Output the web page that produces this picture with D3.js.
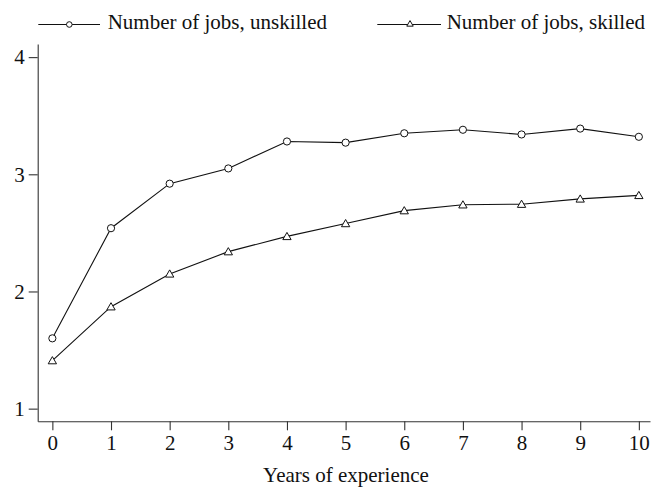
<!DOCTYPE html>
<html>
<head>
<meta charset="utf-8">
<script src="https://cdn.jsdelivr.net/npm/d3@7"></script>
<style>
  html, body { margin: 0; padding: 0; background: #fff; }
  svg { display: block; }
  text { font-family: "Liberation Serif", "Times New Roman", serif; fill: #111; }
</style>
</head>
<body>
<svg id="chart" width="651" height="487"></svg>
<script>
// Years of experience (x) and average number of jobs held
const years = [0, 1, 2, 3, 4, 5, 6, 7, 8, 9, 10];
const unskilled = [1.60, 2.54, 2.92, 3.05, 3.28, 3.27, 3.35, 3.38, 3.34, 3.39, 3.32];
const skilled = [1.41, 1.87, 2.15, 2.34, 2.47, 2.58, 2.69, 2.74, 2.745, 2.79, 2.82];
const xTicks = [0, 1, 2, 3, 4, 5, 6, 7, 8, 9, 10];
const yTicks = [1, 2, 3, 4];
const seriesNames = ["Number of jobs, unskilled", "Number of jobs, skilled"];
const xTitle = "Years of experience";

const svg = d3.select("#chart");
const fontSize = 21;
const ink = "#111";

// Axis frame spans slightly past the outer ticks on both axes
const x = d3.scaleLinear().domain([-0.25, 10.19]).range([37.7, 650]);
const y = d3.scaleLinear().domain([0.892, 4.112]).range([421.3, 44]);

const xAxis = d3.axisBottom(x).tickValues(xTicks).tickSize(9).tickSizeOuter(0).tickPadding(5)
  .tickFormat(d3.format("d"));
const yAxis = d3.axisLeft(y).tickValues(yTicks).tickSize(9).tickSizeOuter(0).tickPadding(4)
  .tickFormat(d3.format("d"));

function styleAxis(g) {
  g.attr("font-size", null).attr("font-family", null);
  g.selectAll("path, line").attr("stroke", "#333").attr("stroke-width", 1.1);
  g.selectAll("text").attr("font-size", fontSize).attr("fill", ink);
}

svg.append("g")
  .attr("transform", `translate(0,${y.range()[0]})`)
  .call(xAxis)
  .call(styleAxis);

svg.append("g")
  .attr("transform", `translate(${x.range()[0]},0)`)
  .call(yAxis)
  .call(styleAxis);

// Axis title
svg.append("text")
  .attr("x", 346)
  .attr("y", 482)
  .attr("text-anchor", "middle")
  .attr("font-size", fontSize)
  .text(xTitle);

// Marker drawers
const triangle = d3.symbol().type(d3.symbolTriangle);
function drawCircle(g, cx, cy, r) {
  g.append("circle").attr("cx", cx).attr("cy", cy).attr("r", r)
    .attr("fill", "#fff").attr("stroke", ink).attr("stroke-width", 1);
}
function drawTriangle(g, cx, cy, size) {
  g.append("path").attr("d", triangle.size(size)())
    .attr("transform", `translate(${cx},${cy + 0.8})`)
    .attr("fill", "#fff").attr("stroke", ink).attr("stroke-width", 1);
}

const line = d3.line().x((d, i) => x(years[i])).y(d => y(d));

const series = [
  { values: unskilled, marker: "circle" },
  { values: skilled, marker: "triangle" }
];

series.forEach(s => {
  const g = svg.append("g");
  g.append("path")
    .datum(s.values)
    .attr("d", line)
    .attr("fill", "none")
    .attr("stroke", ink)
    .attr("stroke-width", 1.1);
  s.values.forEach((v, i) => {
    if (s.marker === "circle") drawCircle(g, x(years[i]), y(v), 3.6);
    else drawTriangle(g, x(years[i]), y(v), 30);
  });
});

// Legend across the top
const legendItems = [
  { name: seriesNames[0], marker: "circle", x0: 38.3, x1: 100, mx: 69.3, tx: 107.7 },
  { name: seriesNames[1], marker: "triangle", x0: 377.3, x1: 441, mx: 410, tx: 446.7 }
];
const legendY = 24.5;
legendItems.forEach(item => {
  const g = svg.append("g");
  g.append("line")
    .attr("x1", item.x0).attr("x2", item.x1)
    .attr("y1", legendY).attr("y2", legendY)
    .attr("stroke", ink).attr("stroke-width", 1.1);
  if (item.marker === "circle") drawCircle(g, item.mx, legendY, 2.8);
  else drawTriangle(g, item.mx, legendY - 1, 18);
  g.append("text")
    .attr("x", item.tx)
    .attr("y", 28.5)
    .attr("font-size", fontSize)
    .text(item.name);
});
</script>
</body>
</html>
